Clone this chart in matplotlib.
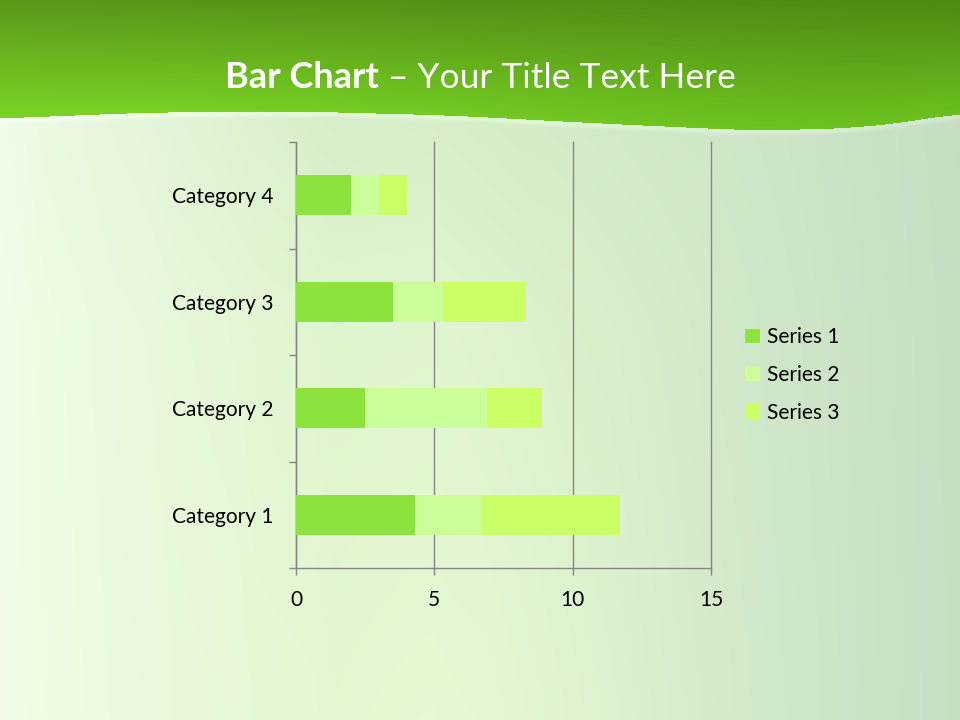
import numpy as np
import matplotlib
matplotlib.use('Agg')
import matplotlib.pyplot as plt
from matplotlib.patches import Patch

plt.rcParams['font.family'] = ['Lato', 'DejaVu Sans']

categories = ['Category 1', 'Category 2', 'Category 3', 'Category 4']
series_names = ['Series 1', 'Series 2', 'Series 3']
series_1 = [4.3, 2.5, 3.5, 2.0]
series_2 = [2.4, 4.4, 1.8, 1.0]
series_3 = [5.0, 2.0, 3.0, 1.0]
x_ticks = [0, 5, 10, 15]
colors = ['#8EE23E', '#CCFF99', '#CCFF66']

W, H = 960, 720
fig = plt.figure(figsize=(9.6, 7.2), dpi=100)

# background: soft green gradient
xx, yy = np.meshgrid(np.linspace(0, 1, W), np.linspace(0, 1, H))
left = np.array([0.94, 0.99, 0.91])
mid = np.array([0.86, 0.95, 0.80])
right = np.array([0.78, 0.87, 0.77])
wl = np.clip(1 - xx / 0.35, 0, 1)[..., None]
wr = np.clip((xx - 0.45) / 0.55, 0, 1)[..., None]
bg = mid * (1 - wl - wr) + left * wl + right * wr
# a bit darker/greyer just under the header, lighter toward the bottom middle
bump = (np.exp(-((xx - 0.5) / 0.3) ** 2) * yy)[..., None]
bg = bg + bump * np.array([0.04, 0.03, 0.03])
topdark = (np.exp(-((xx - 0.4) / 0.35) ** 2) * np.clip(1 - yy / 0.45, 0, 1))[..., None]
bg = bg - topdark * np.array([0.03, 0.03, 0.02])
bg = np.clip(bg, 0, 1)

# header band with wavy lower edge
px = np.arange(W)
wave_x = [0, 150, 300, 450, 600, 750, 850, 920, 960]
wave_y = [118, 112, 111, 115, 123, 130, 128, 120, 112]
edge = np.interp(px, wave_x, wave_y)
edge = np.convolve(np.pad(edge, 40, mode='edge'), np.ones(81) / 81, mode='valid')
rows = np.arange(H)[:, None]
t = np.clip(rows / edge[None, :], 0, 1)[..., None]
top_c = np.array([0.35, 0.60, 0.10]) * (1 - xx[..., None]) + np.array([0.30, 0.54, 0.07]) * xx[..., None]
bot_c = np.array([0.49, 0.83, 0.15]) * (1 - xx[..., None]) + np.array([0.42, 0.75, 0.12]) * xx[..., None]
head = top_c * (1 - t) + bot_c * t
mask = (rows < edge[None, :])[..., None]
img = np.where(mask, head, bg)
# thin light line under the wave
glow = np.exp(-((rows - edge[None, :] - 2) / 3.0) ** 2)[..., None] * (~mask)
img = np.clip(img + glow * 0.04, 0, 1)

ax_bg = fig.add_axes([0, 0, 1, 1])
ax_bg.imshow(img, extent=[0, W, H, 0], aspect='auto')
ax_bg.set_axis_off()

# title
fig.text(379 / W, 1 - 88 / H, 'Bar Chart', color='white', fontsize=26,
         fontweight='bold', ha='right', va='baseline')
fig.text(388 / W, 1 - 88 / H, '\u2013 Your Title Text Here', color='white',
         fontsize=25.5, ha='left', va='baseline')

# chart
ax = fig.add_axes([296 / W, 1 - 568 / H, 415 / W, 426 / H])
ax.patch.set_alpha(0)
y = np.arange(len(categories))
data = [series_1, series_2, series_3]
start = np.zeros(len(categories))
for vals, name, c in zip(data, series_names, colors):
    ax.barh(y, vals, left=start, height=0.375, color=c, label=name, zorder=3)
    start = start + np.array(vals)

grid_c = '#868686'
ax.set_xlim(0, 15)
ax.set_ylim(-0.5, len(categories) - 0.5)
ax.set_xticks(x_ticks)
ax.set_xticklabels([str(v) for v in x_ticks])
ax.set_yticks(y)
ax.set_yticklabels(categories)
ax.set_yticks(np.arange(-0.5, len(categories)), minor=True)
ax.xaxis.grid(True, color=grid_c, linewidth=1, zorder=1)
for gl in ax.get_xgridlines():
    gl.set_clip_on(False)
ax.tick_params(axis='y', which='major', length=0, pad=16, labelsize=15)
ax.tick_params(axis='y', which='minor', length=5, color=grid_c, width=1)
ax.tick_params(axis='x', length=5, color=grid_c, width=1, pad=11, labelsize=15)
for s in ['top', 'right']:
    ax.spines[s].set_visible(False)
for s in ['left', 'bottom']:
    ax.spines[s].set_color(grid_c)
    ax.spines[s].set_linewidth(1)

handles = [Patch(facecolor=c, label=n) for c, n in zip(colors, series_names)]
fig.legend(handles=handles, loc='center left', bbox_to_anchor=(745 / W, 1 - 375 / H),
           frameon=False, fontsize=15, handlelength=0.7, handleheight=0.7,
           handletextpad=0.35, labelspacing=0.85, borderpad=0, borderaxespad=0)

fig.savefig('out.png', dpi=100)
